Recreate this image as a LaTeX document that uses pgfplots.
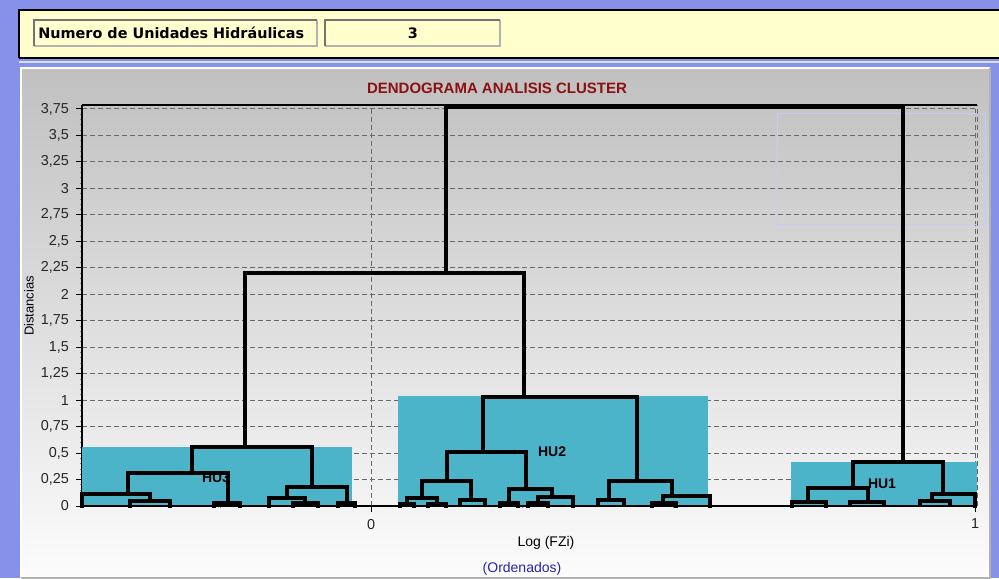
\documentclass[border=0pt]{standalone}
\usepackage{fontspec}
\setmainfont{Liberation Sans}
\newfontfamily\panelfont{DejaVu Sans}
\usepackage{pgfplots}
\pgfplotsset{compat=1.18}

\definecolor{frameblue}{RGB}{134,146,234}
\definecolor{panelyellow}{RGB}{255,255,206}
\definecolor{hucyan}{RGB}{75,180,200}
\definecolor{titlered}{RGB}{140,16,16}
\definecolor{subblue}{RGB}{36,36,170}
\definecolor{gridgray}{RGB}{105,105,105}
\definecolor{paneltop}{RGB}{192,192,192}
\definecolor{panelbot}{RGB}{252,252,252}
\definecolor{legendedge}{RGB}{200,204,245}

\pgfplotsset{
  dendro/.style={black, line width=2pt, no marks, line join=miter, line cap=rect},
  hubox/.style={fill=hucyan, draw=none, no marks},
}
\tikzset{hulabel/.style={font=\fontsize{7}{8}\selectfont\bfseries, text=black}}

\begin{document}
\begin{tikzpicture}
% window frame, header panel and chart panel
\begin{scope}[yshift=289pt, x=0.5pt, y=-0.5pt]
  \useasboundingbox (0,0) rectangle (999,578);
  \fill[frameblue] (0,0) rectangle (999,578);
  \fill[panelyellow] (19,10) rectangle (1000,58);
  \draw[black, line width=1pt] (19,58) -- (19,10) -- (1000,10);
  \draw[black, line width=1pt] (19,58) -- (1000,58);
  \draw[white!70!frameblue, line width=1pt] (19,62) -- (1000,62);
  % header fields
  \fill[panelyellow] (34,20) rectangle (317,46);
  \draw[gray!60, line width=1pt] (34,46) -- (317,46) -- (317,20);
  \draw[gray!90!black, line width=1pt] (34,46) -- (34,20) -- (317,20);
  \node[anchor=west, inner sep=0pt, font=\panelfont\fontsize{7.2}{8}\selectfont\bfseries] at (38,33) {Numero de Unidades Hidráulicas};
  \fill[panelyellow] (325,20) rectangle (500,46);
  \draw[gray!60, line width=1pt] (325,46) -- (500,46) -- (500,20);
  \draw[gray!90!black, line width=1pt] (325,46) -- (325,20) -- (500,20);
  \node[inner sep=0pt, font=\panelfont\fontsize{7.2}{8}\selectfont\bfseries] at (413,33) {3};
  % chart panel
  \shade[top color=paneltop, bottom color=panelbot] (20,68) rectangle (990,578);
  \draw[white, line width=1pt] (20.5,578) -- (20.5,68.5) -- (989.5,68.5);
  \draw[gray!60, line width=1pt] (989.5,68.5) -- (989.5,577.5) -- (20.5,577.5);
\end{scope}

\begin{axis}[
  at={(41pt,36pt)}, anchor=south west,
  width=447.5pt, height=200.5pt, scale only axis,
  xmin=-0.4785, xmax=1.0033, ymin=0, ymax=3.787,
  clip=false,
  axis x line*=bottom, axis y line*=left,
  axis line style={black, line width=1pt, -},
  xtick={0,1}, minor xtick={-0.25,0.25,0.5,0.75},
  ytick={0,0.25,0.5,0.75,1,1.25,1.5,1.75,2,2.25,2.5,2.75,3,3.25,3.5,3.75},
  minor y tick num=4,
  tick align=outside,
  major tick length=3pt, minor tick length=1.2pt,
  tick style={black, line width=0.5pt},
  minor tick style={gray, line width=0.4pt},
  xmajorgrids, ymajorgrids,
  major grid style={gridgray, line width=0.5pt, dash pattern=on 2.5pt off 1.5pt},
  /pgf/number format/use comma,
  /pgf/number format/fixed,
  /pgf/number format/assume math mode=true,
  tick label style={font=\fontsize{7.2}{8}\selectfont, text=black!85},
  title={DENDOGRAMA ANALISIS CLUSTER},
  title style={at={(rel axis cs:0.4637,1.0424)}, anchor=center, yshift=-6pt, inner sep=0pt,
               font=\fontsize{7.5}{9}\selectfont\bfseries, text=titlered},
  xlabel={Log (FZi)},
  xlabel style={at={(rel axis cs:0.5184,-0.0923)}, anchor=center, inner sep=0pt,
                font=\fontsize{7}{8}\selectfont},
  ylabel={Distancias},
  ylabel style={at={(rel axis cs:-0.0592,0.4988)}, anchor=center, inner sep=0pt,
                font=\fontsize{6.5}{8}\selectfont},
]
% empty legend frame
\draw[legendedge, line width=0.5pt] (axis cs:0.6738,3.702) rectangle (axis cs:1.0166,2.663);

% hydraulic unit bands
\addplot[hubox] coordinates {(-0.4785,0.557) (-0.0315,0.557)} \closedcycle;
\addplot[hubox] coordinates {(0.0447,1.039) (0.5580,1.039)} \closedcycle;
\addplot[hubox] coordinates {(0.6954,0.420) (1.0033,0.420)} \closedcycle;

\node[hulabel] at (axis cs:-0.2566,0.264) {HU3};
\node[hulabel] at (axis cs:0.2997,0.510) {HU2};
\node[hulabel] at (axis cs:0.8460,0.208) {HU1};

% top-level joins
\addplot[dendro] coordinates {(0.1242,2.200) (0.1242,3.770) (0.8808,3.770) (0.8808,0.415)};
\addplot[dendro] coordinates {(-0.2086,0.557) (-0.2086,2.200) (0.2533,2.200) (0.2533,1.029)};

% HU3
\addplot[dendro] coordinates {(-0.2964,0.312) (-0.2964,0.557) (-0.0977,0.557) (-0.0977,0.179)};
\addplot[dendro] coordinates {(-0.4023,0.113) (-0.4023,0.312) (-0.2368,0.312) (-0.2368,0.025)};
\addplot[dendro] coordinates {(-0.4785,0) (-0.4785,0.113) (-0.3660,0.113) (-0.3660,0.047)};
\addplot[dendro] coordinates {(-0.3990,0) (-0.3990,0.047) (-0.3328,0.047) (-0.3328,0)};
\addplot[dendro] coordinates {(-0.2600,0) (-0.2600,0.025) (-0.2169,0.025) (-0.2169,0)};
\addplot[dendro] coordinates {(-0.1391,0.0755) (-0.1391,0.179) (-0.0397,0.179) (-0.0397,0.025)};
\addplot[dendro] coordinates {(-0.1689,0) (-0.1689,0.0755) (-0.1090,0.0755) (-0.1090,0.028)};
\addplot[dendro] coordinates {(-0.1291,0) (-0.1291,0.028) (-0.0877,0.028) (-0.0877,0)};
\addplot[dendro] coordinates {(-0.0546,0) (-0.0546,0.025) (-0.0265,0.025) (-0.0265,0)};

% HU2
\addplot[dendro] coordinates {(0.1854,0.510) (0.1854,1.029) (0.4404,1.029) (0.4404,0.236)};
\addplot[dendro] coordinates {(0.1258,0.236) (0.1258,0.510) (0.2566,0.510) (0.2566,0.1605)};
\addplot[dendro] coordinates {(0.0844,0.0755) (0.0844,0.236) (0.1656,0.236) (0.1656,0.0567)};
\addplot[dendro] coordinates {(0.0596,0.020) (0.0596,0.0755) (0.1093,0.0755) (0.1093,0.020)};
\addplot[dendro] coordinates {(0.0480,0) (0.0480,0.020) (0.0712,0.020) (0.0712,0)};
\addplot[dendro] coordinates {(0.0944,0) (0.0944,0.020) (0.1242,0.020) (0.1242,0)};
\addplot[dendro] coordinates {(0.1474,0.015) (0.1474,0.0567) (0.1887,0.0567) (0.1887,0.015)};
\addplot[dendro] coordinates {(0.2285,0.028) (0.2285,0.1605) (0.2997,0.1605) (0.2997,0.085)};
\addplot[dendro] coordinates {(0.2136,0) (0.2136,0.028) (0.2434,0.028) (0.2434,0)};
\addplot[dendro] coordinates {(0.2765,0.030) (0.2765,0.085) (0.3344,0.085) (0.3344,0)};
\addplot[dendro] coordinates {(0.2600,0) (0.2600,0.030) (0.2930,0.030) (0.2930,0)};
\addplot[dendro] coordinates {(0.3940,0.0567) (0.3940,0.236) (0.4983,0.236) (0.4983,0.0944)};
\addplot[dendro] coordinates {(0.3758,0.015) (0.3758,0.0567) (0.4189,0.0567) (0.4189,0.015)};
\addplot[dendro] coordinates {(0.4834,0.028) (0.4834,0.0944) (0.5613,0.0944) (0.5613,0)};
\addplot[dendro] coordinates {(0.4652,0) (0.4652,0.028) (0.5050,0.028) (0.5050,0)};

% HU1
\addplot[dendro] coordinates {(0.7980,0.170) (0.7980,0.415) (0.9470,0.415) (0.9470,0.113)};
\addplot[dendro] coordinates {(0.7235,0.038) (0.7235,0.170) (0.8228,0.170) (0.8228,0.038)};
\addplot[dendro] coordinates {(0.6970,0) (0.6970,0.038) (0.7533,0.038) (0.7533,0)};
\addplot[dendro] coordinates {(0.7930,0.010) (0.7930,0.038) (0.8493,0.038) (0.8493,0.010)};
\addplot[dendro] coordinates {(0.9288,0.047) (0.9288,0.113) (1.0000,0.113) (1.0000,0)};
\addplot[dendro] coordinates {(0.9090,0.010) (0.9090,0.047) (0.9586,0.047) (0.9586,0.010)};

% frame lines over the bands
\draw[black, line width=1pt] (rel axis cs:0,0) -- (rel axis cs:1,0);
\draw[black, line width=1pt] (rel axis cs:0,1) -- (rel axis cs:1,1);
\draw[gridgray, line width=0.5pt, dash pattern=on 2.5pt off 1.5pt] (rel axis cs:1,0) -- (rel axis cs:1,1);
\end{axis}

\begin{scope}[yshift=289pt, x=0.5pt, y=-0.5pt]
  \node[text=subblue, inner sep=0pt, font=\fontsize{7}{8}\selectfont] at (522,569) {(Ordenados)};
\end{scope}
\end{tikzpicture}
\end{document}
